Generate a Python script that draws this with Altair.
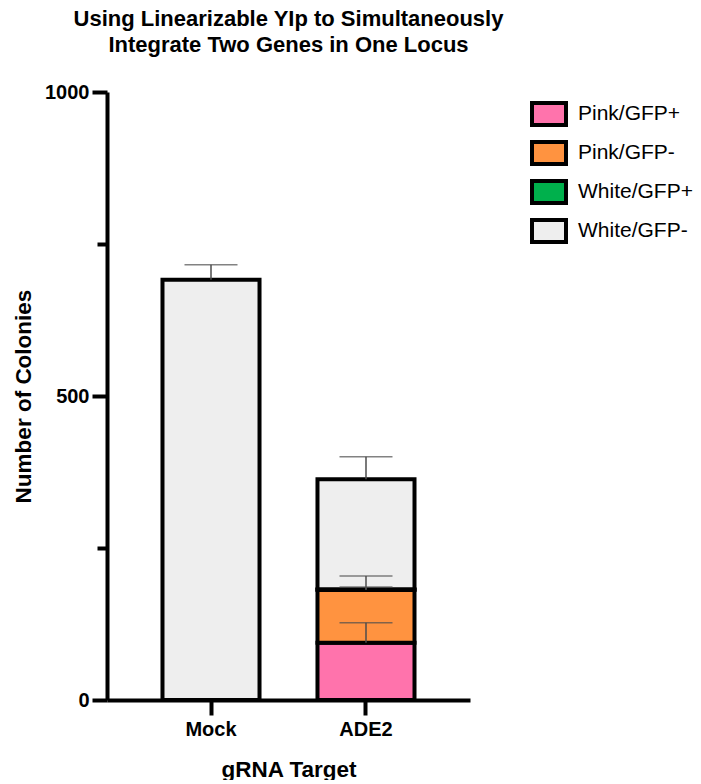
import altair as alt
import pandas as pd

# ---- data ----
groups = ["Mock", "ADE2"]
categories = ["Pink/GFP+", "Pink/GFP-", "White/GFP+", "White/GFP-"]
colors = ["#FF73AC", "#FF9340", "#00B04C", "#EEEEEE"]

mock_values = [0, 0, 0, 691]
mock_errors = [0, 0, 0, 25]
ade2_values = [94, 87, 1, 181]
ade2_errors = [33, 23, 4, 37]

rows = []
for g, vals, errs in [("Mock", mock_values, mock_errors), ("ADE2", ade2_values, ade2_errors)]:
    for i, (c, v, e) in enumerate(zip(categories, vals, errs)):
        if v > 0:
            rows.append({"gRNA": g, "category": c, "order": i, "value": v, "err": e})
df = pd.DataFrame(rows)

FONT = "Liberation Sans"

x_enc = alt.X(
    "gRNA:N",
    sort=groups,
    scale=alt.Scale(paddingInner=0.374, paddingOuter=0.358),
    axis=alt.Axis(
        title="gRNA Target",
        labelAngle=0,
        tickSize=15,
        labelPadding=4,
        titlePadding=19,
    ),
)

y_scale = alt.Scale(domain=[0, 1000], nice=False)

base = alt.Chart(df).transform_stack(
    stack="value",
    groupby=["gRNA"],
    as_=["y0", "y1"],
    sort=[alt.SortField("order", order="ascending")],
)

bars = base.mark_bar(stroke="black", strokeWidth=4).encode(
    x=x_enc,
    y=alt.Y(
        "y0:Q",
        scale=y_scale,
        axis=alt.Axis(
            title="Number of Colonies",
            values=[0, 250, 500, 750, 1000],
            format="d",
            labelExpr="datum.value % 500 === 0 ? datum.label : ''",
            tickSize={"condition": {"test": "datum.value % 500 === 0", "value": 15}, "value": 10},
            labelPadding=3,
            titlePadding=9,
            grid=False,
        ),
    ),
    y2="y1:Q",
    color=alt.Color(
        "category:N",
        scale=alt.Scale(domain=categories, range=colors),
        legend=alt.Legend(
            title=None,
            orient="none",
            legendX=423,
            legendY=3,
            symbolType="M-1,-0.65L1,-0.65L1,0.65L-1,0.65Z",
            symbolSize=1156,
            symbolStrokeColor="black",
            symbolStrokeWidth=4,
            symbolOpacity=1,
            labelFont=FONT,
            labelFontSize=21,
            labelOffset=10,
            rowPadding=-3,
            labelColor="black",
            labelLimit=300,
        ),
    ),
)

err_rule = base.transform_calculate(ytop="datum.y1 + datum.err").mark_rule(
    color="#4d4d4d", strokeWidth=1.5
).encode(x=alt.X("gRNA:N", sort=groups), y="y1:Q", y2="ytop:Q")

err_cap = base.transform_calculate(ytop="datum.y1 + datum.err").mark_tick(
    color="#4d4d4d", thickness=1.5, size=53, orient="horizontal"
).encode(x=alt.X("gRNA:N", sort=groups), y="ytop:Q")

chart = (
    alt.layer(bars, err_rule, err_cap)
    .properties(
        width=363,
        height=608,
        title=alt.TitleParams(
            text=["Using Linearizable YIp to Simultaneously", "Integrate Two Genes in One Locus"],
            font=FONT,
            fontSize=22,
            fontWeight="bold",
            lineHeight=26,
            anchor="middle",
            offset=25,
            color="black",
        ),
        autosize=alt.AutoSizeParams(type="none"),
        padding={"left": 99, "top": 84, "right": 223, "bottom": 80},
    )
    .configure_view(stroke=None)
    .configure_axis(
        domainColor="black",
        domainWidth=4,
        tickColor="black",
        tickWidth=4,
        labelFont=FONT,
        labelFontSize=20,
        labelFontWeight="bold",
        labelColor="black",
        titleFont=FONT,
        titleFontSize=22.5,
        titleFontWeight="bold",
        titleColor="black",
    )
)

chart.save("out.html", embed_options={"renderer": "svg", "actions": False})
